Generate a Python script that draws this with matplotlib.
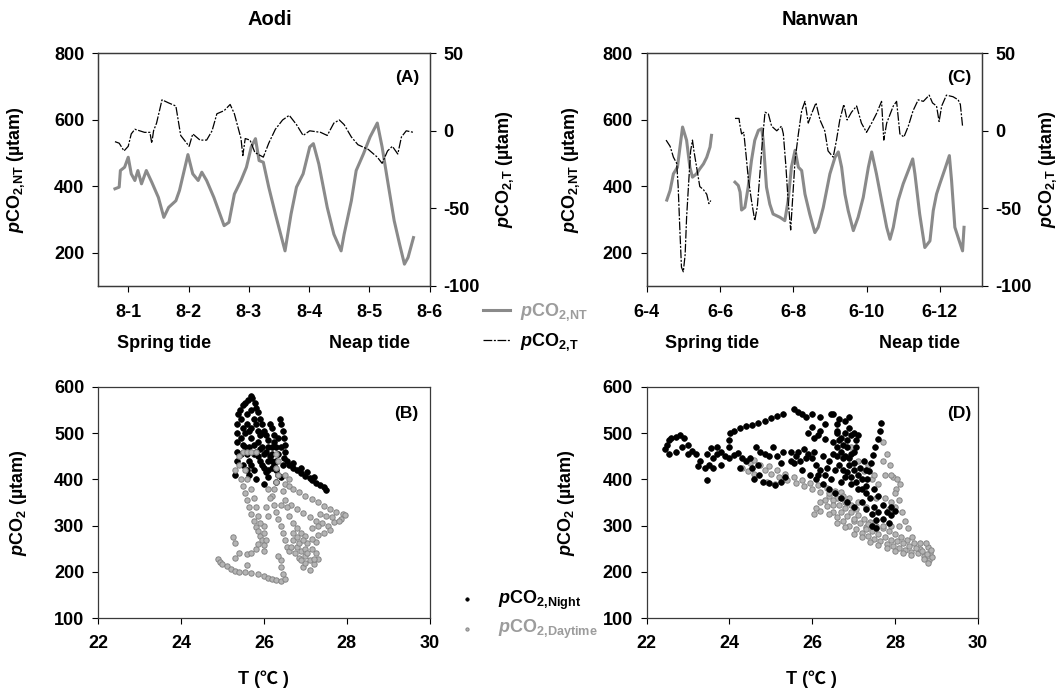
import numpy as np
import matplotlib.pyplot as plt

plt.rcParams['font.family'] = ['Liberation Sans', 'DejaVu Sans']
plt.rcParams['font.weight'] = 'bold'
plt.rcParams['axes.labelweight'] = 'bold'
plt.rcParams['axes.unicode_minus'] = False
plt.rcParams['mathtext.fontset'] = 'custom'
plt.rcParams['mathtext.rm'] = 'Liberation Sans:bold'
plt.rcParams['mathtext.it'] = 'Liberation Sans:italic:bold'
plt.rcParams['mathtext.bf'] = 'Liberation Sans:bold'

GRAY = '#8a8a8a'
LGRAY = '#9c9c9c'

# ---- Aodi time series (days after 8-1) ----
a_nt_day = [-0.22, -0.15, -0.13, -0.06, 0.0, 0.05, 0.11, 0.16, 0.22, 0.30, 0.39, 0.50,
            0.59, 0.67, 0.79, 0.85, 0.99, 1.07, 1.16, 1.22, 1.30, 1.42, 1.59, 1.67,
            1.76, 1.87, 1.96, 2.04, 2.11, 2.17, 2.24, 2.33, 2.44, 2.60, 2.70, 2.79,
            2.90, 3.01, 3.07, 3.16, 3.30, 3.41, 3.53, 3.58, 3.70, 3.78, 3.90, 4.01,
            4.13, 4.21, 4.30, 4.41, 4.50, 4.58, 4.64, 4.73]
a_nt_val = [392, 397, 447, 457, 487, 437, 417, 447, 407, 447, 412, 366,
            306, 336, 356, 387, 495, 437, 417, 442, 417, 366, 281, 291,
            376, 417, 457, 518, 543, 477, 472, 397, 316, 205, 316, 397,
            437, 518, 528, 467, 336, 255, 205, 255, 356, 447, 497, 548,
            590, 518, 417, 296, 225, 165, 185, 245]
a_t_day = [-0.22, -0.15, -0.07, 0.0, 0.05, 0.11, 0.27, 0.36, 0.39, 0.42, 0.47, 0.56,
           0.67, 0.79, 0.87, 0.93, 1.01, 1.07, 1.19, 1.30, 1.39, 1.47, 1.59, 1.69,
           1.76, 1.87, 1.90, 1.94, 2.02, 2.10, 2.24, 2.33, 2.44, 2.56, 2.67, 2.79,
           2.90, 3.01, 3.19, 3.30, 3.41, 3.50, 3.58, 3.70, 3.81, 3.98, 4.13, 4.21,
           4.30, 4.38, 4.47, 4.53, 4.61, 4.73]
a_t_val = [-7, -8, -13, -10, -2, 1, -1, -1, -8, 0, 5, 20,
           18, 16, -3, -6, -10, -2, -6, -6, 0, 11, 13, 17,
           11, -5, -16, -5, -6, -14, -17, -8, 1, 7, 10, 4,
           -3, 0, -1, -3, 5, 7, 4, -4, -9, -12, -17, -21,
           -13, -10, -15, -4, 0, -1]

# ---- Nanwan time series (day of June) ----
c_nt_day1 = [4.55, 4.64, 4.73, 4.84, 4.91, 4.98, 5.09, 5.18, 5.25, 5.36, 5.45, 5.55,
             5.64, 5.73, 5.77]
c_nt_val1 = [358, 387, 437, 457, 518, 578, 538, 457, 427, 437, 452, 467,
             487, 518, 553]
c_nt_day2 = [6.41, 6.50, 6.55, 6.59, 6.68, 6.77, 6.86, 6.95, 7.05, 7.14, 7.18, 7.27,
             7.36, 7.45, 7.64, 7.77, 7.86, 7.95, 8.05, 8.14, 8.23, 8.32, 8.45, 8.59,
             8.68, 8.82, 9.00, 9.14, 9.23, 9.32, 9.41, 9.50, 9.64, 9.77, 9.91, 10.05,
             10.14, 10.27, 10.41, 10.55, 10.64, 10.73, 10.86, 11.00, 11.14, 11.26, 11.32, 11.45,
             11.59, 11.73, 11.82, 11.91, 12.00, 12.14, 12.26, 12.32, 12.41, 12.53, 12.62, 12.66]
c_nt_val2 = [412, 402, 382, 328, 336, 397, 477, 538, 568, 573, 538, 397,
             346, 316, 306, 296, 356, 457, 508, 457, 447, 376, 316, 260,
             276, 336, 437, 487, 503, 457, 376, 326, 266, 306, 366, 457,
             503, 437, 356, 276, 240, 276, 356, 407, 447, 482, 437, 316,
             215, 235, 326, 376, 407, 452, 492, 417, 276, 235, 205, 276]
c_t_day1 = [4.53, 4.64, 4.73, 4.82, 4.86, 4.91, 4.95, 5.00, 5.05, 5.09, 5.14, 5.20,
            5.25, 5.29, 5.36, 5.45, 5.55, 5.64, 5.70, 5.75]
c_t_val1 = [-6, -10, -17, -21, -36, -66, -88, -91, -80, -56, -36, -13,
            -6, -13, -23, -36, -38, -41, -47, -45]
c_t_day2 = [6.41, 6.52, 6.55, 6.59, 6.65, 6.71, 6.77, 6.86, 6.95, 7.02, 7.09, 7.16,
            7.23, 7.32, 7.41, 7.55, 7.68, 7.73, 7.80, 7.86, 7.93, 7.98, 8.05, 8.14,
            8.23, 8.32, 8.41, 8.50, 8.62, 8.73, 8.86, 8.95, 9.09, 9.18, 9.27, 9.38,
            9.47, 9.59, 9.73, 9.86, 10.00, 10.14, 10.27, 10.41, 10.47, 10.55, 10.73, 10.82,
            10.91, 11.02, 11.14, 11.27, 11.41, 11.55, 11.71, 11.80, 11.91, 11.98, 12.05, 12.18,
            12.36, 12.50, 12.56, 12.62]
c_t_val2 = [8, 8, 3, -2, -1, -15, -30, -45, -58, -49, -28, -6,
            12, 11, 3, 0, 3, -2, -23, -45, -64, -45, -19, -2,
            13, 19, 5, 11, 18, 7, 0, -13, -17, -6, 7, 17,
            7, 12, 16, 5, -1, 5, 11, 19, -6, 5, 16, 19,
            -2, -4, 3, 13, 20, 19, 23, 18, 16, 6, 16, 23,
            22, 20, 17, 3]

# ---- T vs pCO2 scatter, Aodi ----
b_night = np.array([
    (25.30, 410), (25.35, 440), (25.35, 460), (25.36, 480), (25.35, 500), (25.36, 520),
    (25.38, 540), (25.42, 550), (25.50, 560), (25.55, 565), (25.62, 572), (25.68, 580),
    (25.72, 575), (25.78, 565), (25.80, 555), (25.85, 545), (25.90, 530), (25.95, 520),
    (26.00, 505), (26.05, 495), (26.10, 485), (25.60, 520), (25.65, 505), (25.70, 490),
    (25.75, 475), (25.80, 460), (25.85, 450), (25.90, 440), (25.95, 430), (26.00, 425),
    (26.05, 415), (26.10, 405), (25.55, 470), (25.60, 455), (25.65, 440), (25.70, 430),
    (25.75, 420), (25.85, 480), (25.95, 470), (26.05, 460), (26.15, 450), (26.20, 440),
    (26.25, 430), (26.30, 420), (26.35, 410), (26.00, 390), (25.80, 400), (26.15, 520),
    (26.20, 510), (26.25, 495), (26.30, 470), (26.20, 470), (26.10, 470), (25.90, 495),
    (25.95, 500), (26.38, 530), (26.42, 520), (26.45, 505), (26.48, 490), (26.50, 475),
    (26.50, 460), (26.48, 445), (26.55, 440), (26.60, 432), (26.70, 425), (26.80, 420),
    (26.90, 413), (27.00, 407), (27.10, 403), (27.15, 398), (27.25, 392), (27.35, 388),
    (27.45, 383), (27.50, 378), (26.40, 405), (26.30, 395), (25.45, 530), (25.50, 510),
    (25.45, 490), (25.50, 475), (25.45, 455), (25.55, 500), (25.60, 540), (25.70, 550),
    (25.75, 530), (25.70, 510), (25.80, 520), (25.85, 505), (25.65, 470), (25.75, 455),
    (25.90, 465), (26.00, 455), (26.10, 440), (26.20, 455), (26.35, 455), (26.30, 440),
    (26.25, 480), (26.35, 490), (26.40, 470), (26.20, 425), (26.10, 420), (26.45, 430),
    (26.70, 435), (26.90, 425), (27.05, 415), (27.20, 405), (25.50, 430), (25.60, 420),
    (25.65, 410)])
b_day = np.array([
    (25.30, 420), (25.40, 430), (25.45, 400), (25.50, 385), (25.55, 370), (25.60, 355),
    (25.65, 340), (25.70, 325), (25.75, 310), (25.80, 298), (25.85, 288), (25.90, 278),
    (25.95, 268), (26.00, 258), (26.00, 245), (25.50, 460), (25.60, 460), (25.70, 460),
    (25.80, 460), (25.40, 450), (26.30, 455), (26.35, 440), (26.30, 425), (26.35, 410),
    (26.30, 395), (26.25, 380), (26.20, 365), (26.25, 345), (26.30, 330), (26.35, 315),
    (26.40, 300), (26.45, 285), (26.50, 270), (26.55, 255), (26.60, 245), (26.10, 380),
    (26.15, 360), (26.05, 340), (26.10, 320), (26.00, 300), (26.50, 390), (26.60, 385),
    (26.70, 380), (26.85, 372), (27.00, 365), (27.15, 358), (27.30, 350), (27.45, 343),
    (27.60, 337), (27.75, 330), (27.90, 325), (27.95, 322), (26.50, 355), (26.65, 345),
    (26.80, 335), (26.95, 327), (27.10, 318), (27.25, 310), (27.40, 305), (27.55, 300),
    (27.70, 308), (27.85, 315), (26.60, 320), (26.70, 305), (26.80, 295), (26.90, 285),
    (27.00, 278), (27.15, 295), (27.30, 300), (26.70, 270), (26.80, 255), (26.90, 245),
    (27.00, 235), (27.10, 225), (27.20, 218), (26.95, 210), (27.05, 262), (27.15, 250),
    (27.25, 240), (27.30, 228), (26.85, 230), (27.00, 250), (26.75, 240), (24.90, 227),
    (24.95, 222), (25.00, 218), (25.10, 212), (25.20, 207), (25.30, 203), (25.40, 201),
    (25.55, 199), (25.70, 198), (25.85, 196), (26.00, 192), (26.10, 188), (26.20, 185),
    (26.30, 183), (26.40, 181), (26.50, 185), (26.45, 195), (26.40, 210), (26.40, 225),
    (26.35, 235), (25.25, 275), (25.30, 262), (25.40, 240), (25.60, 238), (25.70, 240),
    (25.80, 250), (25.85, 260), (25.60, 215), (25.30, 230), (26.85, 262), (26.95, 270),
    (27.05, 240), (27.20, 228), (27.10, 205), (27.00, 220), (26.90, 225), (26.80, 275),
    (26.70, 285), (27.25, 265), (26.65, 255), (25.55, 420), (25.60, 400), (25.70, 380),
    (25.75, 360), (25.80, 340), (25.85, 320), (25.90, 305), (26.00, 285), (26.05, 270),
    (27.35, 325), (27.50, 320), (27.65, 318), (27.80, 310), (27.60, 290), (27.45, 285),
    (27.30, 280), (27.15, 272), (26.50, 410), (26.60, 400), (26.45, 375), (26.55, 340),
    (26.40, 345)])

# ---- T vs pCO2 scatter, Nanwan ----
d_night = np.array([
    (22.45, 465), (22.50, 475), (22.55, 485), (22.60, 490), (22.70, 492), (22.80, 495),
    (22.90, 490), (22.55, 455), (22.70, 460), (22.85, 470), (23.00, 475), (23.10, 462),
    (23.20, 455), (23.30, 440), (23.25, 428), (23.40, 425), (23.50, 432), (23.60, 445),
    (23.70, 455), (23.45, 455), (23.55, 468), (23.45, 398), (23.80, 460), (23.90, 450),
    (24.00, 445), (24.10, 452), (24.20, 456), (24.30, 447), (24.40, 440), (24.50, 445),
    (23.80, 430), (24.00, 470), (24.25, 425), (24.00, 485), (24.02, 500), (24.10, 505),
    (24.25, 510), (24.40, 515), (24.55, 518), (24.70, 522), (24.85, 527), (25.00, 532),
    (25.15, 536), (25.30, 540), (25.55, 552), (25.65, 545), (25.75, 540), (25.85, 535),
    (26.00, 540), (26.20, 535), (26.45, 540), (26.60, 520), (26.90, 535), (24.65, 470),
    (24.75, 460), (24.85, 455), (24.95, 450), (24.70, 430), (24.72, 410), (24.80, 395),
    (24.95, 392), (25.10, 388), (25.25, 395), (25.35, 405), (25.50, 460), (25.60, 450),
    (25.70, 440), (25.80, 465), (25.90, 455), (26.00, 445), (26.10, 432), (26.20, 420),
    (26.30, 410), (26.45, 400), (25.55, 435), (25.75, 420), (25.95, 410), (26.10, 400),
    (26.25, 390), (26.40, 380), (26.55, 370), (26.70, 360), (26.85, 350), (27.00, 340),
    (25.90, 500), (26.00, 512), (26.15, 495), (26.30, 488), (26.50, 480), (26.60, 470),
    (26.70, 490), (26.80, 500), (26.90, 510), (27.00, 500), (27.05, 485), (26.85, 470),
    (26.95, 455), (26.75, 445), (26.65, 430), (26.55, 420), (26.90, 430), (27.00, 420),
    (27.10, 410), (26.80, 405), (26.70, 395), (26.95, 390), (27.10, 380), (27.20, 400),
    (27.30, 385), (27.67, 522), (27.63, 505), (27.58, 488), (27.53, 470), (27.48, 452),
    (27.43, 435), (27.38, 418), (27.33, 400), (27.30, 370), (27.20, 350), (27.30, 335),
    (27.45, 325), (27.55, 312), (27.60, 330), (27.70, 345), (27.80, 330), (27.90, 322),
    (28.00, 332), (27.85, 305), (27.60, 365), (27.50, 380), (26.60, 500), (26.65, 485),
    (26.75, 475), (26.85, 485), (26.95, 495), (27.05, 470), (26.70, 460), (26.80, 450),
    (26.90, 445), (27.00, 460), (26.60, 450), (26.75, 420), (26.85, 415), (27.00, 435),
    (26.95, 405), (27.05, 395), (27.15, 425), (27.25, 440), (27.30, 420), (27.20, 380),
    (27.40, 360), (27.50, 340), (27.45, 300), (27.55, 295), (27.70, 315), (27.90, 340),
    (25.50, 440), (25.65, 460), (25.85, 445), (26.05, 460), (26.25, 450), (26.40, 440),
    (26.50, 455), (26.35, 425), (26.15, 410), (25.25, 435), (25.15, 450), (25.05, 470),
    (25.30, 460), (24.55, 425), (24.60, 400), (23.60, 425), (23.00, 455), (23.70, 470),
    (26.05, 490), (26.20, 505), (26.30, 520), (26.50, 540), (26.65, 530), (26.80, 525),
    (26.60, 505), (27.10, 495)])
d_day = np.array([
    (24.30, 425), (24.45, 418), (24.60, 412), (24.50, 435), (24.60, 442), (24.85, 420),
    (25.00, 412), (25.20, 405), (25.40, 398), (25.60, 392), (25.80, 386), (26.00, 380),
    (26.20, 372), (26.40, 365), (26.60, 360), (26.80, 352), (24.90, 395), (25.10, 390),
    (26.05, 325), (26.20, 332), (26.35, 342), (26.50, 330), (26.60, 318), (26.75, 310),
    (26.90, 300), (27.05, 292), (27.20, 285), (27.35, 278), (27.50, 272), (27.65, 266),
    (27.80, 260), (27.95, 256), (28.10, 252), (28.25, 248), (28.40, 244), (28.55, 240),
    (28.70, 234), (28.82, 225), (28.85, 240), (28.80, 255), (28.75, 262), (28.60, 250),
    (26.50, 355), (26.65, 345), (26.80, 338), (26.95, 330), (27.10, 322), (27.25, 315),
    (27.40, 308), (27.55, 300), (27.70, 295), (27.85, 288), (28.00, 282), (28.15, 275),
    (28.30, 268), (28.45, 262), (26.40, 370), (26.70, 372), (26.90, 360), (27.10, 350),
    (27.30, 340), (27.00, 310), (27.30, 298), (27.72, 480), (27.80, 455), (27.87, 430),
    (27.95, 405), (28.02, 380), (28.10, 355), (28.17, 330), (28.25, 310), (28.32, 295),
    (28.42, 275), (27.35, 303), (27.50, 302), (27.70, 300), (27.90, 300), (28.10, 300),
    (27.75, 410), (27.90, 410), (28.05, 400), (28.12, 390), (28.00, 370), (27.90, 350),
    (27.85, 335), (27.35, 430), (27.25, 418), (27.45, 400), (27.10, 440), (26.95, 470),
    (26.30, 355), (26.50, 345), (26.70, 330), (26.85, 320), (27.00, 315), (27.15, 305),
    (27.30, 292), (27.45, 288), (27.60, 282), (27.75, 276), (27.90, 270), (28.05, 266),
    (28.20, 262), (28.35, 256), (28.50, 252), (28.65, 245), (28.78, 238), (28.90, 232),
    (28.88, 248), (28.70, 228), (28.80, 220), (28.60, 262), (26.20, 350), (26.10, 338),
    (26.40, 325), (26.60, 305), (26.80, 298), (27.00, 282), (27.20, 275), (27.40, 265),
    (27.60, 258), (27.80, 252), (28.00, 245), (28.20, 240), (28.40, 236), (24.75, 432),
    (24.95, 428), (25.15, 420), (25.35, 412), (25.55, 405), (25.75, 398), (25.95, 392),
    (26.15, 388), (26.35, 382), (26.55, 375), (26.75, 365), (26.95, 345), (27.05, 335),
    (27.50, 410), (27.60, 390), (27.55, 360), (28.00, 340), (27.70, 440), (27.75, 360)])

a_ticks = [0, 1, 2, 3, 4, 5]
a_ticklabels = ['8-1', '8-2', '8-3', '8-4', '8-5', '8-6']
c_ticks = [4, 6, 8, 10, 12]
c_ticklabels = ['6-4', '6-6', '6-8', '6-10', '6-12']

NT_LABEL = r'$p\mathrm{CO}_{\mathrm{2{,}NT}}$'
T_LABEL = r'$p\mathrm{CO}_{\mathrm{2{,}T}}$'
DASH = (7, 1.3, 1.6, 1.3)
FS = 13


def style(ax, xpad=9):
    for sp in ax.spines.values():
        sp.set_color('#3a3a3a')
        sp.set_linewidth(0.9)
    ax.tick_params(direction='out', length=4, width=0.8, labelsize=FS, colors='black')
    ax.tick_params(axis='x', pad=xpad)
    ax.tick_params(axis='y', pad=6)


fig = plt.figure(figsize=(10.58, 6.91), dpi=100)

# panel A
axA = fig.add_axes([0.0927, 0.5865, 0.3135, 0.3363])
lineNT, = axA.plot(a_nt_day, a_nt_val, color=GRAY, lw=2.2)
axA.set_xlim(-0.5, 5)
axA.set_ylim(100, 800)
axA.set_yticks([200, 400, 600, 800])
axA.set_xticks(a_ticks)
axA.set_xticklabels(a_ticklabels)
axA.set_ylabel(NT_LABEL + ' (µtam)', fontsize=FS)
axA.yaxis.set_label_coords(-0.213, 0.5)
style(axA)
axA2 = axA.twinx()
lineT, = axA2.plot(a_t_day, a_t_val, color='black', lw=0.9, dashes=DASH)
axA2.set_ylim(-100, 50)
axA2.set_yticks([-100, -50, 0, 50])
axA2.set_ylabel(T_LABEL + ' (µtam)', fontsize=FS)
axA2.yaxis.set_label_coords(1.195, 0.5)
style(axA2)
axA.text(0.931, 0.894, '(A)', transform=axA.transAxes, ha='center', va='center', fontsize=12.5)

# panel C
axC = fig.add_axes([0.6112, 0.5865, 0.3166, 0.3363])
axC.plot(c_nt_day1, c_nt_val1, color=GRAY, lw=2.2)
axC.plot(c_nt_day2, c_nt_val2, color=GRAY, lw=2.2)
axC.set_xlim(4, 13.14)
axC.set_ylim(100, 800)
axC.set_yticks([200, 400, 600, 800])
axC.set_xticks(c_ticks)
axC.set_xticklabels(c_ticklabels)
axC.set_ylabel(NT_LABEL + ' (µtam)', fontsize=FS)
axC.yaxis.set_label_coords(-0.194, 0.5)
style(axC)
axC2 = axC.twinx()
axC2.plot(c_t_day1, c_t_val1, color='black', lw=0.9, dashes=DASH)
axC2.plot(c_t_day2, c_t_val2, color='black', lw=0.9, dashes=DASH)
axC2.set_ylim(-100, 50)
axC2.set_yticks([-100, -50, 0, 50])
axC2.set_ylabel(T_LABEL + ' (µtam)', fontsize=FS)
axC2.yaxis.set_label_coords(1.165, 0.5)
style(axC2)
axC.text(0.932, 0.894, '(C)', transform=axC.transAxes, ha='center', va='center', fontsize=12.5)

# panel B
axB = fig.add_axes([0.0927, 0.1052, 0.3135, 0.3352])
night_pts = axB.scatter(b_night[:, 0], b_night[:, 1], s=17, color='black', edgecolors='black',
                        linewidths=0.5, zorder=2)
day_pts = axB.scatter(b_day[:, 0], b_day[:, 1], s=15, facecolors='#b4b4b4', edgecolors='#858585',
                      linewidths=0.7, zorder=3)
# panel D
axD = fig.add_axes([0.6112, 0.1052, 0.3129, 0.3352])
axD.scatter(d_day[:, 0], d_day[:, 1], s=15, facecolors='#b4b4b4', edgecolors='#858585',
            linewidths=0.7, zorder=2)
axD.scatter(d_night[:, 0], d_night[:, 1], s=17, color='black', edgecolors='black',
            linewidths=0.5, zorder=3)

for ax, lab, ylx, lx in [(axB, '(B)', -0.207, 0.929), (axD, '(D)', -0.211, 0.943)]:
    ax.set_xlim(22, 30)
    ax.set_ylim(100, 600)
    ax.set_xticks([22, 24, 26, 28, 30])
    ax.set_yticks([100, 200, 300, 400, 500, 600])
    ax.set_ylabel(r'$p\mathrm{CO}_{\mathrm{2}}$ (µtam)', fontsize=FS)
    ax.yaxis.set_label_coords(ylx, 0.5)
    ax.set_xlabel('T (℃ )', fontsize=FS, family=['Liberation Sans', 'Noto Sans CJK SC'])
    ax.xaxis.set_label_coords(0.498, -0.225)
    ax.text(lx, 0.886, lab, transform=ax.transAxes, ha='center', va='center', fontsize=12.5)
    style(ax, xpad=8)

# titles and tide annotations
fig.text(0.255, 0.9725, 'Aodi', ha='center', va='center', fontsize=14.5)
fig.text(0.775, 0.9725, 'Nanwan', ha='center', va='center', fontsize=14.5)
for x, s in [(0.1546, 'Spring tide'), (0.3497, 'Neap tide'),
             (0.6733, 'Spring tide'), (0.8688, 'Neap tide')]:
    fig.text(x, 0.5036, s, ha='center', va='center', fontsize=FS)

# legends
leg1 = fig.legend([lineNT, lineT], [NT_LABEL, T_LABEL], loc='center left',
                  bbox_to_anchor=(0.4565, 0.526), frameon=False, fontsize=FS,
                  handlelength=1.5, handletextpad=0.55, borderpad=0, borderaxespad=0,
                  labelspacing=0.45)
for t, c in zip(leg1.get_texts(), [LGRAY, 'black']):
    t.set_color(c)
leg2 = fig.legend([night_pts, day_pts], [r'$p\mathrm{CO}_{\mathrm{2{,}Night}}$',
                                         r'$p\mathrm{CO}_{\mathrm{2{,}Daytime}}$'],
                  loc='center left', bbox_to_anchor=(0.4329, 0.110), frameon=False,
                  fontsize=FS, handlelength=1.0, handletextpad=1.2, borderpad=0,
                  borderaxespad=0, labelspacing=0.35, markerscale=0.6, scatterpoints=1)
for t, c in zip(leg2.get_texts(), ['black', LGRAY]):
    t.set_color(c)

fig.savefig('out.png', dpi=100)
